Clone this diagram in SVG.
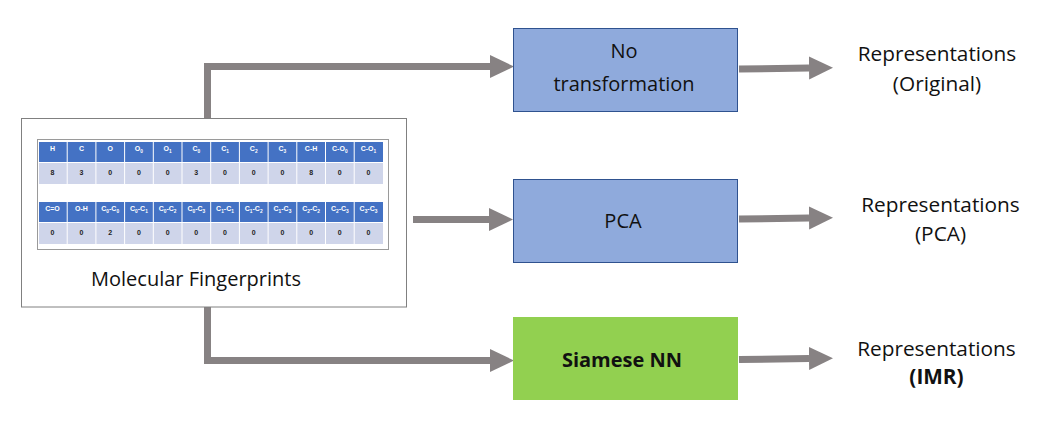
<svg xmlns="http://www.w3.org/2000/svg" width="1038" height="424" viewBox="0 0 1038 424">
<defs>
<marker id="ah" markerUnits="userSpaceOnUse" markerWidth="26" markerHeight="24" refX="0" refY="11.5" orient="auto" viewBox="0 0 26 24">
<path d="M0,0 L24,11.5 L0,23 Z" fill="#878283"/>
</marker>
<style>
.lbl{font-family:"Open Sans","Liberation Sans",sans-serif;font-size:20px;fill:#111;text-anchor:middle}
.rep{font-family:"Open Sans","Liberation Sans",sans-serif;font-size:20.8px;fill:#111;text-anchor:middle}
.b{font-weight:bold}
.conn{fill:none;stroke:#878283;stroke-width:7;marker-end:url(#ah)}
.hd{fill:#4472C4}
.dt{fill:#CFD5EA}
.ht{font-family:"Liberation Sans",Arial,sans-serif;font-size:7px;font-weight:bold;fill:#fff;text-anchor:middle}
.dtt{font-family:"Liberation Sans",Arial,sans-serif;font-size:7px;font-weight:bold;fill:#222;text-anchor:middle}
.sub{font-size:4.8px}
</style>
</defs>
<rect width="1038" height="424" fill="#fff"/>

<g id="connectors">
<path class="conn" d="M207.5,118 V66.5 H490"/>
<path class="conn" d="M413,219.5 H489"/>
<path class="conn" d="M207.5,307 V360.5 H490"/>
<path class="conn" d="M739,69 L809,68"/>
<path class="conn" d="M739,219 L809,218"/>
<path class="conn" d="M739,359.5 L809,358.5"/>
</g>

<g id="molecular-fingerprints">
<rect x="21.5" y="118.5" width="385" height="188.5" fill="#fff" stroke="#808080" stroke-width="1"/>
<rect x="37.5" y="139.5" width="351" height="110" fill="#fff" stroke="#9A9A9A" stroke-width="1"/>
<g id="table-row1">
<rect class="hd" x="39" y="142" width="27.7" height="20"/><rect class="hd" x="67.7" y="142" width="27.7" height="20"/><rect class="hd" x="96.4" y="142" width="27.7" height="20"/><rect class="hd" x="125.1" y="142" width="27.7" height="20"/><rect class="hd" x="153.8" y="142" width="27.7" height="20"/><rect class="hd" x="182.5" y="142" width="27.7" height="20"/><rect class="hd" x="211.2" y="142" width="27.7" height="20"/><rect class="hd" x="239.9" y="142" width="27.7" height="20"/><rect class="hd" x="268.6" y="142" width="27.7" height="20"/><rect class="hd" x="297.3" y="142" width="27.7" height="20"/><rect class="hd" x="326" y="142" width="27.7" height="20"/><rect class="hd" x="354.7" y="142" width="28.3" height="20"/>
<rect class="dt" x="39" y="163" width="27.7" height="21"/><rect class="dt" x="67.7" y="163" width="27.7" height="21"/><rect class="dt" x="96.4" y="163" width="27.7" height="21"/><rect class="dt" x="125.1" y="163" width="27.7" height="21"/><rect class="dt" x="153.8" y="163" width="27.7" height="21"/><rect class="dt" x="182.5" y="163" width="27.7" height="21"/><rect class="dt" x="211.2" y="163" width="27.7" height="21"/><rect class="dt" x="239.9" y="163" width="27.7" height="21"/><rect class="dt" x="268.6" y="163" width="27.7" height="21"/><rect class="dt" x="297.3" y="163" width="27.7" height="21"/><rect class="dt" x="326" y="163" width="27.7" height="21"/><rect class="dt" x="354.7" y="163" width="28.3" height="21"/>
<text class="ht" x="52.5" y="151">H</text>
<text class="ht" x="81.5" y="151">C</text>
<text class="ht" x="110.2" y="151">O</text>
<text class="ht" x="138.9" y="151">O<tspan class="sub" dy="1.5">0</tspan></text>
<text class="ht" x="167.6" y="151">O<tspan class="sub" dy="1.5">1</tspan></text>
<text class="ht" x="196.3" y="151">C<tspan class="sub" dy="1.5">0</tspan></text>
<text class="ht" x="225" y="151">C<tspan class="sub" dy="1.5">1</tspan></text>
<text class="ht" x="253.7" y="151">C<tspan class="sub" dy="1.5">2</tspan></text>
<text class="ht" x="282.4" y="151">C<tspan class="sub" dy="1.5">3</tspan></text>
<text class="ht" x="311.1" y="151">C-H</text>
<text class="ht" x="339.8" y="151">C-O<tspan class="sub" dy="1.5">0</tspan></text>
<text class="ht" x="368.5" y="151">C-O<tspan class="sub" dy="1.5">1</tspan></text>
<text class="dtt" x="52.5" y="175">8</text>
<text class="dtt" x="81.5" y="175">3</text>
<text class="dtt" x="110.2" y="175">0</text>
<text class="dtt" x="138.9" y="175">0</text>
<text class="dtt" x="167.6" y="175">0</text>
<text class="dtt" x="196.3" y="175">3</text>
<text class="dtt" x="225" y="175">0</text>
<text class="dtt" x="253.7" y="175">0</text>
<text class="dtt" x="282.4" y="175">0</text>
<text class="dtt" x="311.1" y="175">8</text>
<text class="dtt" x="339.8" y="175">0</text>
<text class="dtt" x="368.5" y="175">0</text>
</g>
<g id="table-row2">
<rect class="hd" x="39" y="202" width="27.7" height="20"/><rect class="hd" x="67.7" y="202" width="27.7" height="20"/><rect class="hd" x="96.4" y="202" width="27.7" height="20"/><rect class="hd" x="125.1" y="202" width="27.7" height="20"/><rect class="hd" x="153.8" y="202" width="27.7" height="20"/><rect class="hd" x="182.5" y="202" width="27.7" height="20"/><rect class="hd" x="211.2" y="202" width="27.7" height="20"/><rect class="hd" x="239.9" y="202" width="27.7" height="20"/><rect class="hd" x="268.6" y="202" width="27.7" height="20"/><rect class="hd" x="297.3" y="202" width="27.7" height="20"/><rect class="hd" x="326" y="202" width="27.7" height="20"/><rect class="hd" x="354.7" y="202" width="28.3" height="20"/>
<rect class="dt" x="39" y="223" width="27.7" height="21"/><rect class="dt" x="67.7" y="223" width="27.7" height="21"/><rect class="dt" x="96.4" y="223" width="27.7" height="21"/><rect class="dt" x="125.1" y="223" width="27.7" height="21"/><rect class="dt" x="153.8" y="223" width="27.7" height="21"/><rect class="dt" x="182.5" y="223" width="27.7" height="21"/><rect class="dt" x="211.2" y="223" width="27.7" height="21"/><rect class="dt" x="239.9" y="223" width="27.7" height="21"/><rect class="dt" x="268.6" y="223" width="27.7" height="21"/><rect class="dt" x="297.3" y="223" width="27.7" height="21"/><rect class="dt" x="326" y="223" width="27.7" height="21"/><rect class="dt" x="354.7" y="223" width="28.3" height="21"/>
<text class="ht" x="52.5" y="211">C=O</text>
<text class="ht" x="81.5" y="211">O-H</text>
<text class="ht" x="110.2" y="211">C<tspan class="sub" dy="1.5">0</tspan><tspan dy="-1.5">-C</tspan><tspan class="sub" dy="1.5">0</tspan></text>
<text class="ht" x="138.9" y="211">C<tspan class="sub" dy="1.5">0</tspan><tspan dy="-1.5">-C</tspan><tspan class="sub" dy="1.5">1</tspan></text>
<text class="ht" x="167.6" y="211">C<tspan class="sub" dy="1.5">0</tspan><tspan dy="-1.5">-C</tspan><tspan class="sub" dy="1.5">2</tspan></text>
<text class="ht" x="196.3" y="211">C<tspan class="sub" dy="1.5">0</tspan><tspan dy="-1.5">-C</tspan><tspan class="sub" dy="1.5">3</tspan></text>
<text class="ht" x="225" y="211">C<tspan class="sub" dy="1.5">1</tspan><tspan dy="-1.5">-C</tspan><tspan class="sub" dy="1.5">1</tspan></text>
<text class="ht" x="253.7" y="211">C<tspan class="sub" dy="1.5">1</tspan><tspan dy="-1.5">-C</tspan><tspan class="sub" dy="1.5">2</tspan></text>
<text class="ht" x="282.4" y="211">C<tspan class="sub" dy="1.5">1</tspan><tspan dy="-1.5">-C</tspan><tspan class="sub" dy="1.5">3</tspan></text>
<text class="ht" x="311.1" y="211">C<tspan class="sub" dy="1.5">2</tspan><tspan dy="-1.5">-C</tspan><tspan class="sub" dy="1.5">2</tspan></text>
<text class="ht" x="339.8" y="211">C<tspan class="sub" dy="1.5">2</tspan><tspan dy="-1.5">-C</tspan><tspan class="sub" dy="1.5">3</tspan></text>
<text class="ht" x="368.5" y="211">C<tspan class="sub" dy="1.5">3</tspan><tspan dy="-1.5">-C</tspan><tspan class="sub" dy="1.5">3</tspan></text>
<text class="dtt" x="52.5" y="235">0</text>
<text class="dtt" x="81.5" y="235">0</text>
<text class="dtt" x="110.2" y="235">2</text>
<text class="dtt" x="138.9" y="235">0</text>
<text class="dtt" x="167.6" y="235">0</text>
<text class="dtt" x="196.3" y="235">0</text>
<text class="dtt" x="225" y="235">0</text>
<text class="dtt" x="253.7" y="235">0</text>
<text class="dtt" x="282.4" y="235">0</text>
<text class="dtt" x="311.1" y="235">0</text>
<text class="dtt" x="339.8" y="235">0</text>
<text class="dtt" x="368.5" y="235">0</text>
</g>
<text class="lbl" x="196" y="286" font-size="20.8">Molecular Fingerprints</text>
</g>

<g id="no-transformation">
<rect x="513.5" y="28.5" width="224" height="83" fill="#8FAADC" stroke="#2F528F" stroke-width="1"/>
<text class="lbl" x="624" y="58">No</text>
<text class="lbl" x="624" y="91">transformation</text>
</g>

<g id="pca">
<rect x="513.5" y="179.5" width="224" height="83" fill="#8FAADC" stroke="#2F528F" stroke-width="1"/>
<text class="lbl" x="623" y="228">PCA</text>
</g>

<g id="siamese-nn">
<rect x="513" y="317" width="225" height="83" fill="#92D050"/>
<text class="lbl b" x="622" y="367">Siamese NN</text>
</g>

<g id="rep-original">
<text class="rep" x="937" y="61">Representations</text>
<text class="rep" x="937" y="91">(Original)</text>
</g>
<g id="rep-pca">
<text class="rep" x="940.5" y="212">Representations</text>
<text class="rep" x="940.5" y="241">(PCA)</text>
</g>
<g id="rep-imr">
<text class="rep" x="936.5" y="356">Representations</text>
<text class="rep b" x="936.5" y="384">(IMR)</text>
</g>
</svg>
